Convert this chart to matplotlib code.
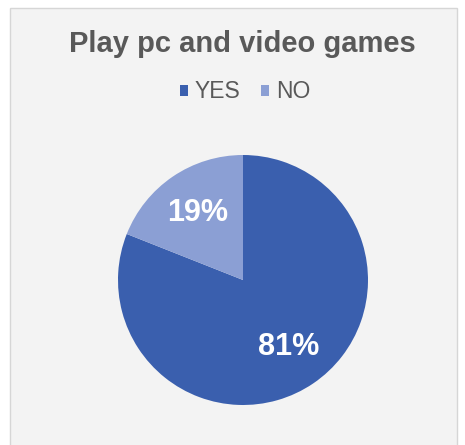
import matplotlib.pyplot as plt
from matplotlib.patches import Rectangle

plt.rcParams['font.family'] = ['Liberation Sans', 'DejaVu Sans']

labels = ['YES', 'NO']
shares = [81, 19]
colors = ['#3a5fae', '#8b9fd4']

W, H = 465, 445
fig = plt.figure(figsize=(W / 100, H / 100), dpi=100)
fig.patch.set_facecolor('white')

# chart panel with thin grey frame
fig.add_artist(Rectangle((10 / W, -5 / H), 447 / W, 442 / H, transform=fig.transFigure,
                         facecolor='#f3f3f3', edgecolor='#d6d6d6', lw=1, zorder=0))

cx, cy, r = 243, H - 280, 125
ax = fig.add_axes([(cx - r) / W, (cy - r) / H, 2 * r / W, 2 * r / H])
wedges, _, autotexts = ax.pie(shares, colors=colors, startangle=90, counterclock=False,
                              autopct='%d%%', pctdistance=0.65, radius=1,
                              wedgeprops=dict(linewidth=0))
for t in autotexts:
    t.set_color('white')
    t.set_fontsize(22)
    t.set_fontweight('bold')
ax.set_xlim(-1, 1)
ax.set_ylim(-1, 1)
ax.set_aspect('equal')
ax.axis('off')

fig.text(242 / W, 1 - 44 / H, 'Play pc and video games', ha='center', va='center',
         fontsize=21, fontweight='bold', color='#595959')

leg = fig.legend(wedges, labels, loc='center', bbox_to_anchor=(245 / W, 1 - 92 / H), ncol=2,
                 frameon=False, fontsize=16.5, handlelength=0.35, handleheight=0.35,
                 handletextpad=0.3, columnspacing=0.9, labelcolor='#595959')

fig.savefig('out.png', dpi=100)
